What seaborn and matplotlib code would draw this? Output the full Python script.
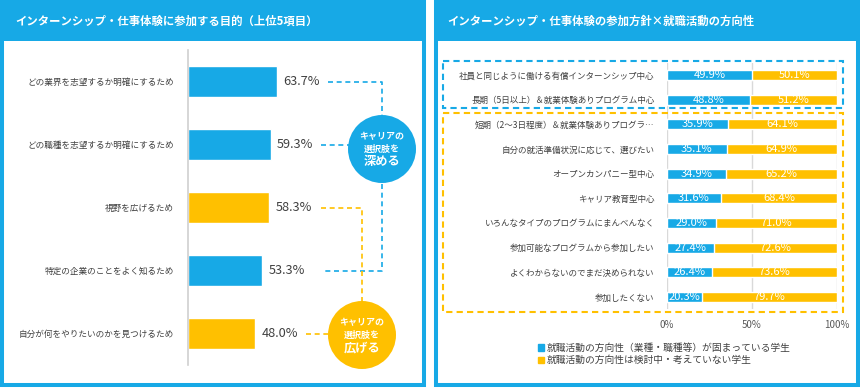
import matplotlib.pyplot as plt
import seaborn as sns
import pandas as pd
from matplotlib.patches import Rectangle, Circle, Patch

# left chart: purpose of joining internships (top 5)
purpose_labels = [
    "どの業界を志望するか明確にするため",
    "どの職種を志望するか明確にするため",
    "視野を広げるため",
    "特定の企業のことをよく知るため",
    "自分が何をやりたいのかを見つけるため",
]
purpose_values = [63.7, 59.3, 58.3, 53.3, 48.0]
purpose_group = ["deep", "deep", "wide", "deep", "wide"]

# right chart: participation policy x job-hunting direction
policy_labels = [
    "社員と同じように働ける有償インターンシップ中心",
    "長期（5日以上）＆就業体験ありプログラム中心",
    "短期（2～3日程度）＆就業体験ありプログラ…",
    "自分の就活準備状況に応じて、選びたい",
    "オープンカンパニー型中心",
    "キャリア教育型中心",
    "いろんなタイプのプログラムにまんべんなく",
    "参加可能なプログラムから参加したい",
    "よくわからないのでまだ決められない",
    "参加したくない",
]
decided = [49.9, 48.8, 35.9, 35.1, 34.9, 31.6, 29.0, 27.4, 26.4, 20.3]
undecided = [50.1, 51.2, 64.1, 64.9, 65.2, 68.4, 71.0, 72.6, 73.6, 79.7]
legend_labels = [
    "就職活動の方向性（業種・職種等）が固まっている学生",
    "就職活動の方向性は検討中・考えていない学生",
]

BLUE = "#17A9E6"
ORANGE = "#FFC000"
TEXT = "#404040"

sns.set_theme(style="white")
plt.rcParams["font.family"] = ["Noto Sans CJK JP", "DejaVu Sans"]

W, H = 860, 388
fig = plt.figure(figsize=(W / 100, H / 100), dpi=100)


def box(x0, y0, x1, y1):
    # pixel box (top-left origin) -> figure fraction rect
    return [x0 / W, 1 - y1 / H, (x1 - x0) / W, (y1 - y0) / H]


# background: frames and headers
bg = fig.add_axes([0, 0, 1, 1], zorder=0)
bg.set_xlim(0, W)
bg.set_ylim(H, 0)
bg.axis("off")
for x0 in (0, 434):
    bg.add_patch(Rectangle((x0 + 2, 2), 422, 383, facecolor="white",
                           edgecolor=BLUE, lw=2.9))
    bg.add_patch(Rectangle((x0, 0), 426, 41, facecolor=BLUE, edgecolor="none"))
bg.text(15, 21, "インターンシップ・仕事体験に参加する目的（上位5項目）",
        color="white", fontsize=8.2, fontweight="bold", va="center")
bg.text(447, 21, "インターンシップ・仕事体験の参加方針×就職活動の方向性",
        color="white", fontsize=8.2, fontweight="bold", va="center")

# left bar chart
axl = fig.add_axes(box(188, 50, 420, 365), zorder=1)
axl.patch.set_alpha(0)
df_l = pd.DataFrame({"label": purpose_labels, "value": purpose_values,
                     "group": purpose_group})
sns.barplot(data=df_l, x="value", y="label", hue="group",
            palette={"deep": BLUE, "wide": ORANGE}, width=0.48,
            saturation=1, dodge=False, legend=False, ax=axl)
axl.set_xlim(0, 166)
axl.set_xlabel("")
axl.set_ylabel("")
axl.set_xticks([])
axl.tick_params(axis="y", length=0, pad=10, labelsize=6.2, labelcolor=TEXT)
for s in ("top", "right", "bottom"):
    axl.spines[s].set_visible(False)
axl.spines["left"].set_color("#d0d0d0")
axl.spines["left"].set_linewidth(1.2)
for i, v in enumerate(purpose_values):
    axl.annotate(f"{v:.1f}%", (v, i), xytext=(4.5, 0), textcoords="offset points",
                 va="center", ha="left", fontsize=9.2, color=TEXT)

# right stacked bar chart
axr = fig.add_axes(box(667, 62.7, 837, 309.3), zorder=1)
axr.patch.set_alpha(0)
df_r = pd.DataFrame({"label": policy_labels, "decided": decided,
                     "undecided": undecided})
df_r["total"] = df_r["decided"] + df_r["undecided"]
sns.barplot(data=df_r, x="total", y="label", color=ORANGE, width=0.4,
            saturation=1, ax=axr)
sns.barplot(data=df_r, x="decided", y="label", color=BLUE, width=0.4,
            saturation=1, ax=axr)
axr.set_xlim(0, 100)
axr.set_xticks([0, 50, 100], ["0%", "50%", "100%"])
axr.set_xlabel("")
axr.set_ylabel("")
axr.grid(axis="x", color="#d9d9d9", lw=1)
axr.set_axisbelow(True)
axr.tick_params(axis="x", length=0, pad=8, labelsize=7, labelcolor="#595959")
axr.tick_params(axis="y", length=0, pad=9, labelsize=6.15, labelcolor=TEXT)
sns.despine(ax=axr, left=True, bottom=True)
for i, (b, o) in enumerate(zip(decided, undecided)):
    axr.text(b / 2, i, f"{b:.1f}%", color="white", fontsize=8,
             ha="center", va="center")
    axr.text(b + o / 2, i, f"{o:.1f}%", color="white", fontsize=8,
             ha="center", va="center")

fig.legend(handles=[Patch(color=BLUE), Patch(color=ORANGE)], labels=legend_labels,
           loc="upper left", bbox_to_anchor=(533 / W, 1 - 338 / H),
           frameon=False, fontsize=7, handlelength=0.6, handleheight=0.6,
           handletextpad=0.3, labelspacing=0.25, borderpad=0,
           labelcolor=TEXT)

# overlay: connectors, circles, dashed group boxes
ov = fig.add_axes([0, 0, 1, 1], zorder=2)
ov.set_xlim(0, W)
ov.set_ylim(H, 0)
ov.axis("off")


def row_y(i):
    return H - axl.transData.transform((0, i))[1]


dash = dict(lw=1.2, ls=(0, (3, 2.2)))
y0, y1, y2, y3, y4 = (row_y(i) for i in range(5))
ov.plot([328, 382, 382, 323], [y0, y0, y3, y3], color=BLUE, **dash)
ov.plot([321, 350], [y1, y1], color=BLUE, **dash)
ov.plot([321, 362, 362], [y2, y2, 302], color=ORANGE, **dash)
ov.plot([306, 330], [y4, y4], color=ORANGE, **dash)

for (cx, cy), col, last in (((382, 149), BLUE, "深める"),
                            ((362, 335), ORANGE, "広げる")):
    ov.add_patch(Circle((cx, cy), 34, facecolor=col, edgecolor="none"))
    ov.text(cx, cy - 12, "キャリアの", color="white", fontsize=6.5,
            fontweight="bold", ha="center", va="center")
    ov.text(cx, cy, "選択肢を", color="white", fontsize=6.5,
            fontweight="bold", ha="center", va="center")
    ov.text(cx, cy + 13, last, color="white", fontsize=8.8,
            fontweight="bold", ha="center", va="center")

ov.add_patch(Rectangle((443, 61), 400, 47, fill=False, edgecolor=BLUE,
                       lw=1.5, ls=(0, (3, 2))))
ov.add_patch(Rectangle((443, 113), 400, 199, fill=False, edgecolor=ORANGE,
                       lw=1.5, ls=(0, (3, 2))))

fig.savefig("out.png", dpi=100)
